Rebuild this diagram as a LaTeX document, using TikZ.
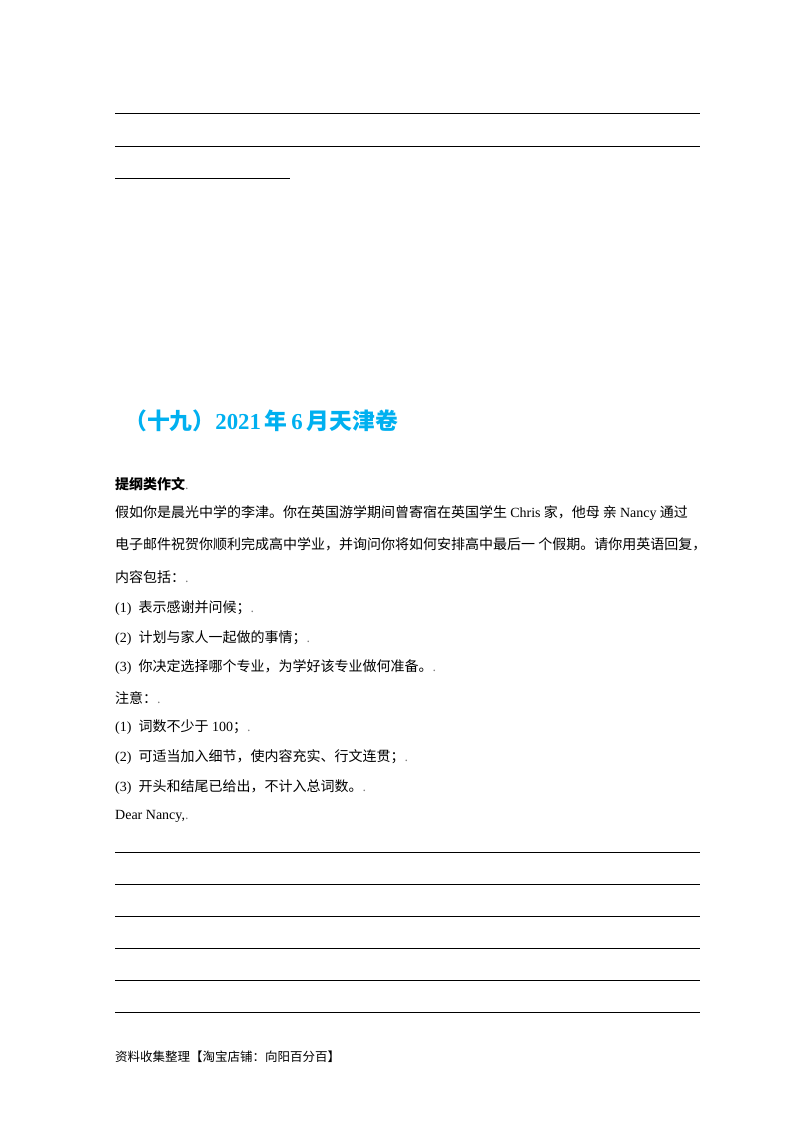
\documentclass[tikz,border=0pt]{standalone}
\usepackage{fontspec}
\setmainfont{Liberation Serif}
\newfontfamily\cjk{Noto Sans CJK SC}
\definecolor{titlecyan}{RGB}{0,176,240}
\begin{document}
\begin{tikzpicture}[x=1pt,y=-1pt,
  body/.style={anchor=west,inner sep=0pt,font=\fontsize{14}{15}\selectfont},
  rule/.style={line width=0.8pt},
  dotm/.style={gray!60}]
\useasboundingbox (0,0) rectangle (800,1132);
\fill[white] (0,0) rectangle (800,1132);
\foreach \y in {113,146} \draw[rule] (115,\y) -- (700,\y);
\draw[rule] (115,178) -- (290,178);
\node[anchor=west,inner sep=0pt,text=titlecyan,font=\fontsize{22.8}{24}\selectfont\bfseries] (title) at (124,421) {{\cjk\bfseries （十九）}2021\,{\cjk\bfseries 年}\,6\,{\cjk\bfseries 月天津卷}};
\node[body] (h) at (115,484) {{\cjk\bfseries 提纲类作文}\textcolor{gray}{.}};
\node[body] (l1) at (115,513) {\cjk 假如你是晨光中学的李津。你在英国游学期间曾寄宿在英国学生 {\rmfamily Chris} 家，他母\ 亲 {\rmfamily Nancy} 通过};
\node[body] (l2) at (115,544) {\cjk 电子邮件祝贺你顺利完成高中学业，并询问你将如何安排高中最后一\ 个假期。请你用英语回复，};
\node[body] (l3) at (115,577) {{\cjk 内容包括：}\textcolor{gray}{.}};
\node[body] (l4) at (115,608) {(1)\ \ {\cjk 表示感谢并问候；}\textcolor{gray}{.}};
\node[body] (l5) at (115,638) {(2)\ \ {\cjk 计划与家人一起做的事情；}\textcolor{gray}{.}};
\node[body] (l6) at (115,667) {(3)\ \ {\cjk 你决定选择哪个专业，为学好该专业做何准备。}\textcolor{gray}{.}};
\node[body] (l7) at (115,698) {{\cjk 注意：}\textcolor{gray}{.}};
\node[body] (l8) at (115,727) {(1)\ \ {\cjk 词数不少于} 100{\cjk ；}\textcolor{gray}{.}};
\node[body] (l9) at (115,757) {(2)\ \ {\cjk 可适当加入细节，使内容充实、行文连贯；}\textcolor{gray}{.}};
\node[body] (l10) at (115,787) {(3)\ \ {\cjk 开头和结尾已给出，不计入总词数。}\textcolor{gray}{.}};
\node[body] (l11) at (115,816) {Dear Nancy,\textcolor{gray}{.}};
\foreach \y in {852,884,916,948,980,1012} \draw[rule] (115,\y) -- (700,\y);
\node[anchor=west,inner sep=0pt,font=\fontsize{12.5}{13}\selectfont\cjk] (foot) at (115,1057) {资料收集整理【淘宝店铺：向阳百分百】};
\end{tikzpicture}
\end{document}
